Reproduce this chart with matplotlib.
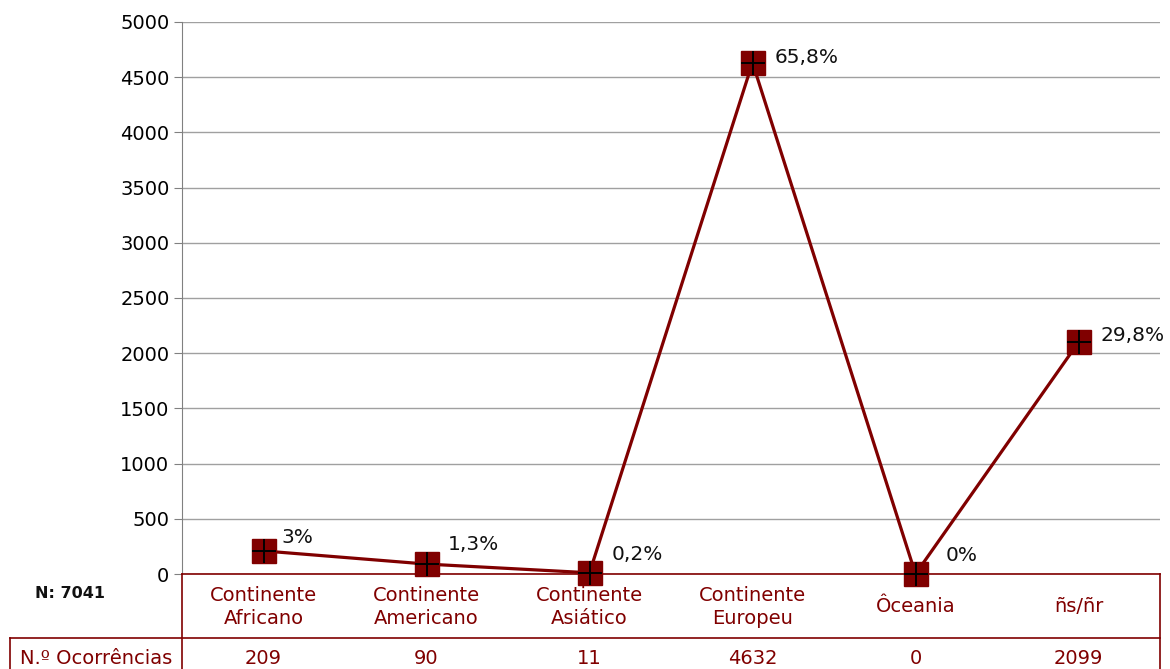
import matplotlib.pyplot as plt
from matplotlib.transforms import blended_transform_factory

categories = ["Continente\nAfricano", "Continente\nAmericano", "Continente\nAsiático",
              "Continente\nEuropeu", "Ôceania", "ñs/ñr"]
ocorrencias = [209, 90, 11, 4632, 0, 2099]
percent_labels = ["3%", "1,3%", "0,2%", "65,8%", "0%", "29,8%"]
yticks = list(range(0, 5001, 500))

red = "#800000"
W, H = 1170, 669

fig = plt.figure(figsize=(11.7, 6.69), dpi=100)
ax = fig.add_axes([182 / W, 1 - 574 / H, (1160 - 182) / W, (574 - 22) / H])

x = list(range(len(categories)))
ax.plot(x, ocorrencias, color=red, lw=2.3, zorder=3, clip_on=False)
ax.plot(x, ocorrencias, ls="none", marker="s", ms=17, mfc=red, mec=red, zorder=4, clip_on=False)
ax.plot(x, ocorrencias, ls="none", marker="+", ms=17, mew=1.4, color="black", zorder=5, clip_on=False)

# percentage labels beside each point
offsets = [(13, 10), (15, 14), (16, 13), (16, 4), (22, 13), (16, 5)]
for xi, yi, lab, off in zip(x, ocorrencias, percent_labels, offsets):
    ax.annotate(lab, (xi, yi), xytext=off, textcoords="offset points",
                fontsize=14.5, ha="left", va="center", color="#111111")

ax.set_xlim(-0.5, len(categories) - 0.5)
ax.set_ylim(0, 5000)
ax.set_yticks(yticks)
ax.set_yticklabels([str(t) for t in yticks], fontsize=14)
ax.tick_params(axis="y", length=6, color="#808080", pad=3)
ax.tick_params(axis="x", length=0, labelbottom=False)
ax.grid(axis="y", color="#a0a0a0", lw=1)
ax.set_axisbelow(True)
for s in ["top", "right"]:
    ax.spines[s].set_visible(False)
ax.spines["left"].set_color("#808080")
ax.spines["bottom"].set_color(red)
ax.spines["bottom"].set_linewidth(1.2)

# data table below the plot
tr = blended_transform_factory(ax.transData, fig.transFigure)
for xi, cat, val in zip(x, categories, ocorrencias):
    ax.text(xi, 1 - 607 / H, cat, transform=tr, ha="center", va="center",
            fontsize=14, color=red, linespacing=1.3)
    ax.text(xi, 1 - 659 / H, str(val), transform=tr, ha="center", va="center",
            fontsize=14, color=red)

ff = fig.transFigure
def line(x0, y0, x1, y1):
    fig.add_artist(plt.Line2D([x0 / W, x1 / W], [1 - y0 / H, 1 - y1 / H],
                              color=red, lw=1.2, transform=ff))

line(182, 574, 182, 669)
line(1160, 574, 1160, 669)
line(10, 638, 1160, 638)
line(10, 638, 10, 669)

fig.text(96 / W, 1 - 659 / H, "N.º Ocorrências", ha="center", va="center",
         fontsize=14, color=red)
fig.text(70 / W, 1 - 593 / H, "N: 7041", ha="center", va="center",
         fontsize=11.5, fontweight="bold", color="#111111")

fig.savefig("out.png", dpi=100)
